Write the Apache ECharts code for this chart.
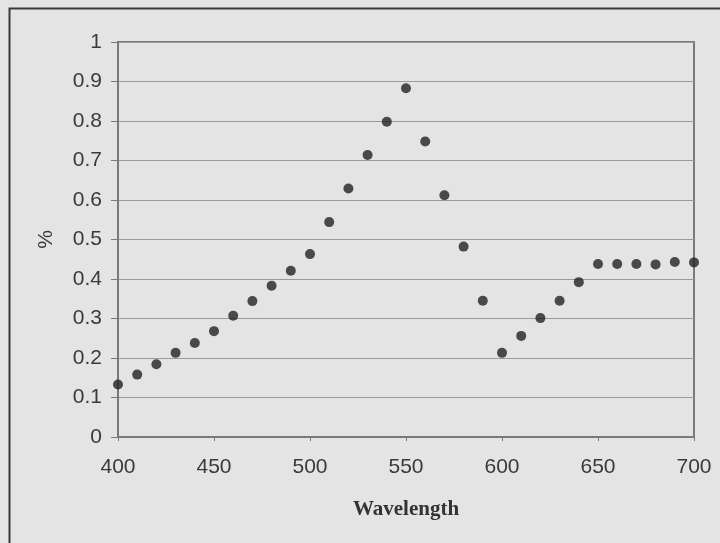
<!DOCTYPE html>
<html>
<head>
<meta charset="utf-8">
<script src="https://cdn.jsdelivr.net/npm/echarts@6/dist/echarts.min.js"></script>
<style>
html,body{margin:0;padding:0;background:#e6e6e6;}
#c{width:720px;height:543px;}
</style>
</head>
<body>
<div id="c"></div>
<script>
const wavelengths = [400,410,420,430,440,450,460,470,480,490,500,510,520,530,540,550,560,570,580,590,600,610,620,630,640,650,660,670,680,690,700];
const percentValues = [0.133,0.158,0.184,0.213,0.238,0.268,0.307,0.344,0.383,0.421,0.463,0.544,0.629,0.714,0.798,0.883,0.748,0.612,0.482,0.345,0.213,0.256,0.301,0.345,0.392,0.438,0.438,0.438,0.437,0.443,0.442];
const xAxisTitle = 'Wavelength';
const yAxisTitle = '%';

const points = wavelengths.map((w, i) => [w, percentValues[i]]);

const chart = echarts.init(document.getElementById('c'), null, {renderer: 'canvas'});
chart.setOption({
  backgroundColor: '#e4e4e4',
  animation: false,
  graphic: [{
    type: 'rect', left: 7, top: 6, silent: true, z: -1,
    shape: {width: 760, height: 600},
    style: {fill: 'none', stroke: '#3a3a3a', lineWidth: 2}
  }],
  grid: {left: 118, right: 26, top: 42, bottom: 106, show: true, borderColor: '#7a7a7a', borderWidth: 2, backgroundColor: 'transparent'},
  xAxis: {
    type: 'value', min: 400, max: 700, interval: 50,
    name: xAxisTitle, nameLocation: 'middle', nameGap: 62,
    nameTextStyle: {fontFamily: 'Liberation Serif', fontWeight: 'bold', fontSize: 21, color: '#333'},
    axisLine: {show: true, lineStyle: {color: '#7a7a7a', width: 2}},
    axisTick: {show: true, length: 4, lineStyle: {color: '#7a7a7a'}},
    axisLabel: {fontFamily: 'Liberation Sans', fontSize: 21, color: '#3a3a3a', margin: 20},
    splitLine: {show: false}
  },
  yAxis: {
    type: 'value', min: 0, max: 1, interval: 0.1,
    name: yAxisTitle, nameLocation: 'middle', nameGap: 61, nameRotate: 90,
    nameTextStyle: {fontFamily: 'Liberation Sans', fontSize: 21, color: '#3a3a3a'},
    axisLine: {show: true, lineStyle: {color: '#7a7a7a', width: 2}},
    axisTick: {show: true, length: 7, lineStyle: {color: '#7a7a7a'}},
    axisLabel: {fontFamily: 'Liberation Sans', fontSize: 21, color: '#3a3a3a', margin: 16,
      formatter: v => String(Math.round(v * 10) / 10)},
    splitLine: {show: true, lineStyle: {color: '#9a9a9a', width: 1}}
  },
  series: [{
    type: 'scatter',
    data: points,
    symbol: 'circle',
    symbolSize: 10,
    itemStyle: {color: '#222222'},
    clip: false
  }]
});
</script>
</body>
</html>
